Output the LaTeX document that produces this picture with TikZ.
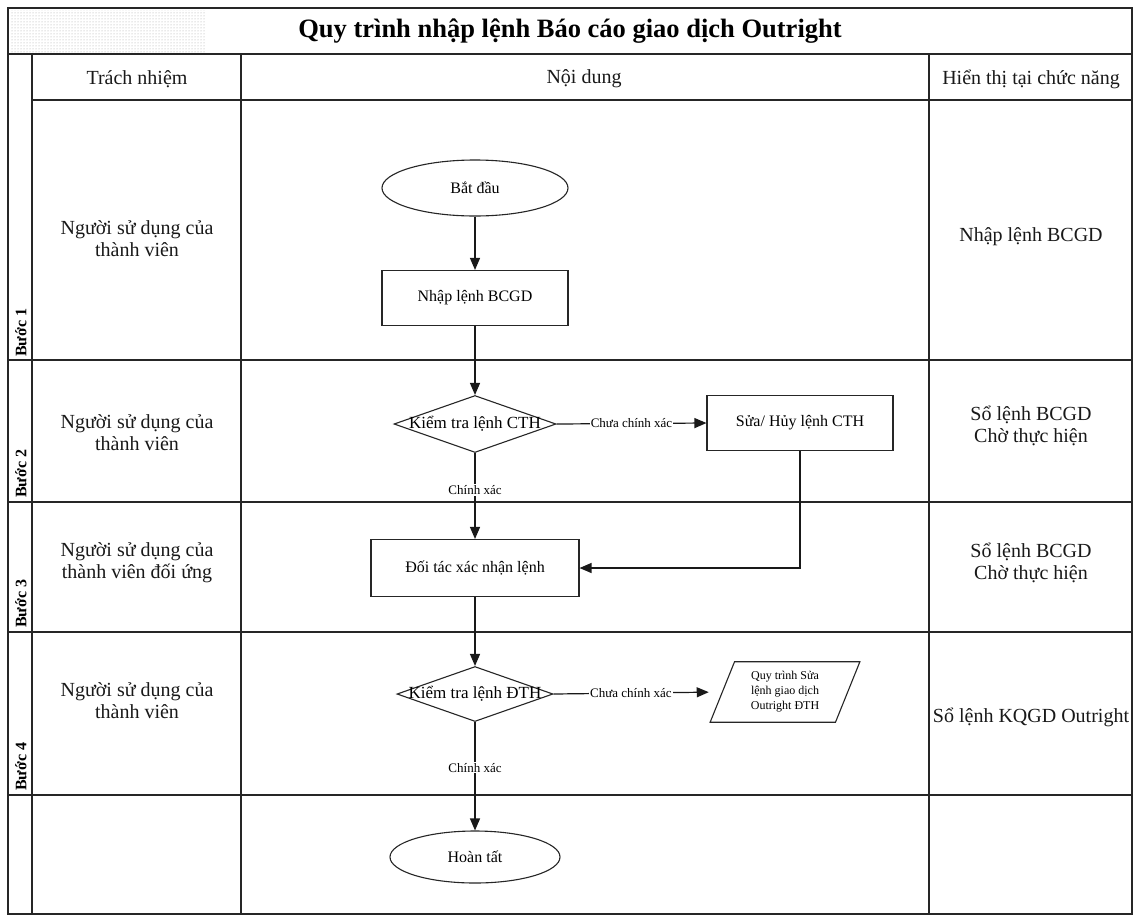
\documentclass[tikz,border=0pt]{standalone}
\usepackage{fontspec}
\setmainfont{Liberation Serif}
\usetikzlibrary{shapes.geometric,arrows.meta,patterns}
\newcommand{\fsz}[2]{\fontsize{#1}{#2}\selectfont}
\begin{document}
\begin{tikzpicture}[x=1pt,y=-1pt,
  grid/.style={line width=1.6pt,draw=black!85},
  tcell/.style={font=\fsz{20}{22}, align=center, text=black!90},
  flow/.style={draw=black!85, line width=1.1pt},
  procbox/.style={flow, rectangle, minimum width=186pt, minimum height=55pt, font=\fsz{16}{19}, inner sep=0},
  term/.style={flow, ellipse, minimum width=186pt, minimum height=56pt, font=\fsz{16}{19}, inner sep=0},
  decide/.style={flow, diamond, inner sep=0, minimum width=160pt, minimum height=57pt},
  conn/.style={draw=black!90, line width=1.2pt, -{Triangle[length=12pt,width=10pt]}},
  lbl/.style={fill=white, inner sep=1pt, font=\fsz{13}{15}},
  steplbl/.style={rotate=90, anchor=west, font=\bfseries\fsz{16}{18}, inner sep=0}
]
\useasboundingbox (0,0) rectangle (1134,919);
\fill[white] (0,0) rectangle (1134,919);

% scanned dotted patch top-left
\fill[pattern=dots, pattern color=gray!70] (10,10) rectangle (205,52);

% table grid
\draw[grid] (8,8) rectangle (1132,914);
\draw[grid] (8,54) -- (1132,54);
\draw[grid] (32,100) -- (1132,100);
\foreach \yy in {360,502,632,795} \draw[grid] (8,\yy) -- (1132,\yy);
\foreach \xx in {32,241,929} \draw[grid] (\xx,54) -- (\xx,914);

% title and headers
\node[font=\bfseries\fsz{26.5}{30}] (title) at (570,31) {Quy trình nhập lệnh Báo cáo giao dịch Outright};
\node[tcell] (h1) at (137,79) {Trách nhiệm};
\node[tcell] (h2) at (584,79) {Nội dung};
\node[tcell] (h3) at (1031,79) {Hiển thị tại chức năng};

% step labels
\node[steplbl] (s1) at (21,357) {Bước 1};
\node[steplbl] (s2) at (21,498) {Bước 2};
\node[steplbl] (s3) at (21,628) {Bước 3};
\node[steplbl] (s4) at (21,791) {Bước 4};

% responsibility
\node[tcell] (r1) at (137,239) {Người sử dụng của\\thành viên};
\node[tcell] (r2) at (137,433) {Người sử dụng của\\thành viên};
\node[tcell] (r3) at (137,563) {Người sử dụng của\\thành viên đối ứng};
\node[tcell] (r4) at (137,701) {Người sử dụng của\\thành viên};

% display
\node[tcell] (d1) at (1031,237) {Nhập lệnh BCGD};
\node[tcell] (d2) at (1031,426) {Sổ lệnh BCGD\\Chờ thực hiện};
\node[tcell] (d3) at (1031,563) {Sổ lệnh BCGD\\Chờ thực hiện};
\node[tcell] (d4) at (1031,717) {Sổ lệnh KQGD Outright};

% flowchart
\node[term] (start) at (475,188) {Bắt đầu};
\node[procbox] (nhap) at (475,298) {Nhập lệnh BCGD};
\node[decide, minimum width=162pt, label={[font=\fsz{17}{19}]center:Kiểm tra lệnh CTH}] (kt1) at (475,424) {};
\node[procbox] (sua) at (800,423) {Sửa/ Hủy lệnh CTH};
\node[procbox, minimum width=208pt, minimum height=57pt] (doitac) at (475,568) {Đối tác xác nhận lệnh};
\node[decide, minimum width=156pt, minimum height=55pt, label={[font=\fsz{17}{19}]center:Kiểm tra lệnh ĐTH}] (kt2) at (475,694) {};
\node[flow, trapezium, trapezium left angle=68, trapezium right angle=112, minimum height=57pt, minimum width=150pt, inner sep=0, align=center, font=\fsz{12}{15}] (qt) at (785,692) {Quy trình Sửa\\lệnh giao dịch\\Outright ĐTH};
\node[term, minimum width=170pt, minimum height=52pt] (end) at (475,857) {Hoàn tất};

% connectors
\draw[conn] (start) -- (nhap);
\draw[conn] (nhap) -- (kt1);
\draw[conn] (kt1.east) -- node[lbl]{Chưa chính xác} (sua.west);
\draw[conn] (kt1.south) -- node[lbl, pos=0.43]{Chính xác} (doitac.north);
\draw[conn] (sua.south) |- (doitac.east);
\draw[conn] (doitac) -- (kt2);
\draw[conn, shorten >=13pt] (kt2.east) -- node[lbl, pos=0.46]{Chưa chính xác} (qt.west);
\draw[conn] (kt2.south) -- node[lbl, pos=0.42]{Chính xác} (end.north);
\end{tikzpicture}
\end{document}
